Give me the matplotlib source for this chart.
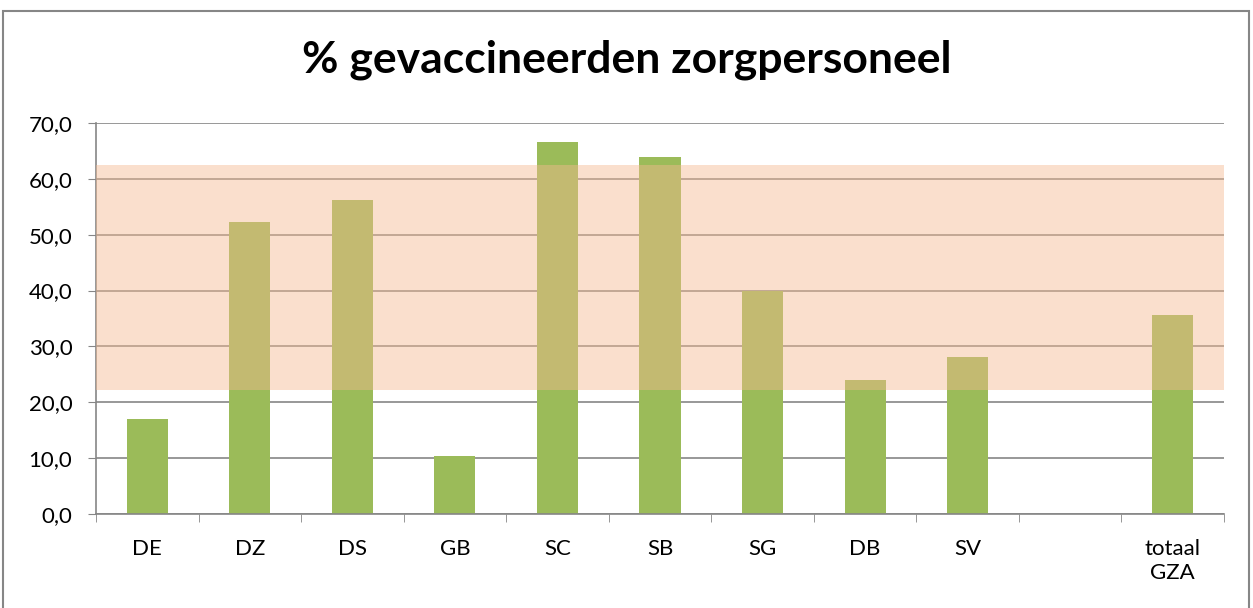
import numpy as np
import matplotlib.pyplot as plt
from matplotlib.patches import Rectangle

categories = ['DE', 'DZ', 'DS', 'GB', 'SC', 'SB', 'SG', 'DB', 'SV', '', 'totaal\nGZA']
values = [17.0, 52.3, 56.2, 10.4, 66.6, 64.0, 39.9, 24.0, 28.1, np.nan, 35.6]
band_low = 22.2
band_high = 62.5
yticks = [0, 10, 20, 30, 40, 50, 60, 70]

plt.rcParams['font.family'] = ['Lato', 'DejaVu Sans']

fig = plt.figure(figsize=(12.53, 6.08), dpi=100)
ax = fig.add_axes([96 / 1253, 1 - 514 / 608, (1224 - 96) / 1253, (514 - 123) / 608])

x = np.arange(len(categories))
ax.bar(x, values, width=0.4, color='#9BBB59', zorder=2)

# target zone drawn over the bars
ax.axhspan(band_low, band_high, color=(246 / 255, 186 / 255, 144 / 255), alpha=0.45, lw=0, zorder=3)

ax.set_xlim(-0.5, len(categories) - 0.5)
ax.set_ylim(0, 70)
ax.set_yticks(yticks)
ax.set_yticklabels([f'{v:.1f}'.replace('.', ',') for v in yticks], fontsize=16)
ax.set_xticks(x)
ax.set_xticklabels(categories, fontsize=16, linespacing=1.25)
ax.set_xticks(np.arange(-0.5, len(categories)), minor=True)
ax.tick_params(axis='x', which='major', length=0, pad=18)
ax.tick_params(axis='x', which='minor', length=6, color='#868686', direction='out')
ax.tick_params(axis='y', length=6, color='#868686', direction='out', pad=11)

ax.grid(True, axis='y', color='#868686', lw=1.2, zorder=1)
ax.set_axisbelow(True)
for s in ['top', 'right']:
    ax.spines[s].set_visible(False)
for s in ['left', 'bottom']:
    ax.spines[s].set_color('#868686')
    ax.spines[s].set_linewidth(1.2)

fig.text(0.5, 1 - 60 / 608, '% gevaccineerden zorgpersoneel', ha='center', va='center',
         fontsize=32, fontweight='bold')

fig.patches.append(Rectangle((3 / 1253, -0.01), 1246 / 1253, 1 - 11 / 608 + 0.01,
                             transform=fig.transFigure, fill=False, ec='#868686', lw=1.5))

fig.savefig('out.png', dpi=100)
